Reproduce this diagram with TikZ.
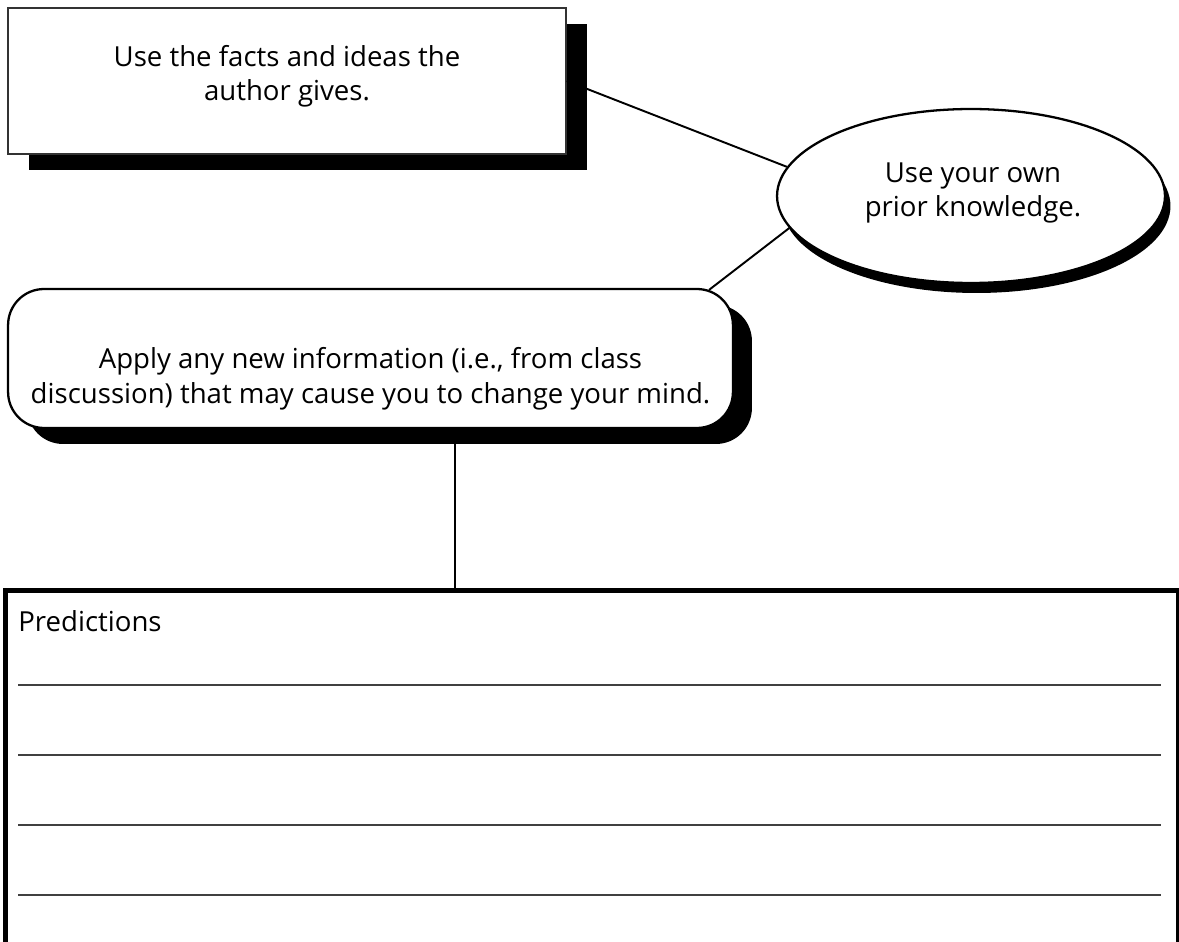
\documentclass[tikz,border=0pt]{standalone}
\usepackage{fontspec}
\setmainfont{Open Sans}
\usetikzlibrary{shapes.geometric,shadows,calc}
\tikzset{
  txt/.style={font=\fontsize{15.7pt}{19.9pt}\selectfont, align=center, inner sep=0pt, anchor=base},
  sqbox/.style={draw=black!80, line width=0.9pt, fill=white, inner sep=0pt,
    minimum width=11.16cm, minimum height=2.92cm,
    drop shadow={shadow xshift=0.42cm, shadow yshift=-0.32cm, fill=black, opacity=1}},
  rndbox/.style={draw=black, line width=1.3pt, fill=white, rounded corners=0.72cm, inner sep=0pt,
    minimum width=14.5cm, minimum height=2.78cm,
    drop shadow={shadow xshift=0.38cm, shadow yshift=-0.32cm, fill=black, opacity=1}},
  oval/.style={ellipse, draw=black, line width=1.3pt, fill=white, inner sep=0pt,
    minimum width=7.76cm, minimum height=3.48cm,
    drop shadow={shadow xshift=0.11cm, shadow yshift=-0.2cm, fill=black, opacity=1}},
  conn/.style={draw=black, line width=1.1pt},
  rule/.style={draw=black!75, line width=1.5pt},
}
\begin{document}
\begin{tikzpicture}[x=0.02cm, y=-0.02cm]
\useasboundingbox (0,0) rectangle (1179,942);
\clip (0,0) rectangle (1179,942);
\fill[white] (0,0) rectangle (1179,942);

\coordinate (tbpos) at (287,81);
\coordinate (elpos) at (971,196);
\coordinate (rbpos) at (370.5,358.5);

% predictions box
\node[draw=black, line width=2.6pt, inner sep=0pt, minimum width=23.46cm, minimum height=7.44cm, anchor=north west]
  (pred) at (3,588) {};

\node[sqbox] (tb) at (tbpos) {};
\node[oval] (el) at (elpos) {};

\path (rbpos) ++(84.5,69.5) coordinate (vtop);
\draw[conn] (vtop) -- (vtop |- pred.north);
\node[rndbox] (rb) at (rbpos) {};

\coordinate (rbhit) at ($(rb.north east)+(-25,2)$);
\draw[conn] (tb.east) -- (el.171);
\draw[conn] (el.190) -- (rbhit);

% texts
\node[txt] (t1) at (287,101) {Use the facts and ideas the\\author gives.};
\node[txt] (t2) at (973,217) {Use your own\\prior knowledge.};
\node[txt] (t3) at (370.5,403) {Apply any new information (i.e., from class\\discussion) that may cause you to change your mind.};
\node[font=\fontsize{15.7pt}{19.9pt}\selectfont, inner sep=0pt, anchor=base west] (pt) at (18,631) {Predictions};

% answer lines
\foreach \yy/\nm in {685/l1,755/l2,825/l3,895/l4}{
  \coordinate (\nm a) at (18,\yy);
  \coordinate (\nm b) at (1161,\yy);
  \draw[rule] (\nm a) -- (\nm b);
}
\end{tikzpicture}
\end{document}
